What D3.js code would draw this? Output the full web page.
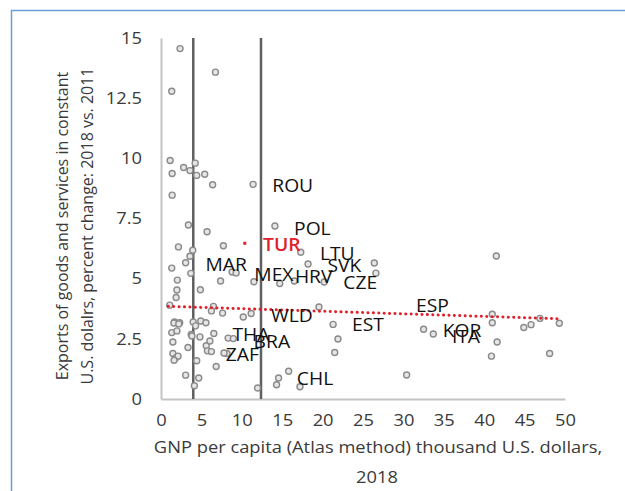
<!DOCTYPE html>
<html><head><meta charset="utf-8">
<script src="https://cdn.jsdelivr.net/npm/d3@7"></script>
<style>body{margin:0;background:#fff;} svg{display:block;}</style>
</head><body>
<svg id="c" width="625" height="491"></svg>
<script>
// GNP per capita (thousand USD) and export growth (%) for unlabeled countries
const pointsX = [1.13,1.38,1.38,2.80,3.59,4.23,4.42,5.41,6.39,1.33,2.36,6.74,3.39,5.70,7.72,2.16,3.93,3.59,3.05,1.33,3.69,2.02,1.97,1.87,4.87,7.37,
  1.08,1.67,2.31,1.33,1.97,1.47,1.47,1.87,2.11,1.62,3.34,3.74,3.98,4.28,4.92,5.56,3.83,4.82,4.42,3.05,4.67,4.13,5.6,6.05,6.54,5.75,6.24,6.83,
  8.31,8.95,8.16,6.49,6.24,7.62,10.18,11.16,11.95,14.3,14.55,15.8,17.2,8.8,9.3,11.5,14.7,16.5,20.2,17.3,18.2,26.4,26.6,41.5,
  19.55,21.3,21.9,21.5,30.4,32.5,33.7,41.0,41.0,41.6,40.9,44.9,45.8,46.9,49.3,48.1,11.4,14.1,7.8,1.6,2.2];
const pointsY = [9.91,9.37,8.47,9.62,9.49,9.80,9.29,9.34,8.90,12.79,14.56,13.58,7.23,6.95,6.37,6.32,6.18,5.93,5.66,5.44,5.22,4.94,4.53,4.22,4.54,4.90,
  3.90,3.20,3.17,2.76,2.83,2.37,1.89,1.72,1.78,1.61,2.14,2.68,3.20,3.04,3.24,3.17,2.62,2.58,1.59,0.99,0.87,0.55,2.21,2.41,2.72,2.00,1.97,1.35,
  2.53,2.51,1.89,3.85,3.66,3.57,3.41,3.55,0.46,0.59,0.87,1.15,0.51,5.28,5.24,4.87,4.80,4.90,4.86,6.10,5.61,5.65,5.23,5.94,
  3.82,3.10,2.49,1.93,1.00,2.90,2.70,3.52,3.17,2.37,1.78,2.97,3.09,3.35,3.15,1.89,8.92,7.19,1.91,3.16,3.12];
// Highlighted country
const turX = [10.37], turY = [6.47];
// Country code labels and their positions (data units)
const labelNames = ["ROU","POL","TUR","LTU","SVK","MAR","MEX","HRV","CZE","ESP","WLD","EST","KOR","ITA","THA","BRA","ZAF","CHL"];
const labelX = [13.77,16.47,12.63,19.67,20.6,5.5,11.55,16.57,22.57,31.56,13.62,23.65,34.86,36.0,8.85,11.46,8.01,16.81];
const labelY = [8.87,7.08,6.42,6.04,5.55,5.56,5.16,5.10,4.83,3.86,3.48,3.08,2.83,2.59,2.66,2.39,1.86,0.83];
// Income thresholds (thousand USD)
const thresholds = [3.995, 12.375];
// Linear trend endpoints
const trendX = [0.9, 49.6], trendY = [3.85, 3.33];
const xTicks = [0,5,10,15,20,25,30,35,40,45,50];
const yTicks = [0,2.5,5,7.5,10,12.5,15];

const svg = d3.select("#c");
const font = "'Open Sans', sans-serif";
const SX = 1.11; // horizontal stretch of the reference image
// frame
svg.append("path").attr("d","M11.5,491 L11.5,10.5 L625,10.5").attr("fill","none").attr("stroke","#6a9fd8").attr("stroke-width",1.5);

const x = d3.scaleLinear().domain([0,50]).range([161,565]);
const y = d3.scaleLinear().domain([0,15]).range([399,38]);

// axes
const gx = svg.append("g").attr("transform","translate(0,399)")
  .call(d3.axisBottom(x).tickValues(xTicks).tickSize(0).tickPadding(15).tickFormat(d3.format("d")));
gx.select(".domain").attr("stroke","#c4c4c4").attr("stroke-width",2);
gx.selectAll("text").attr("font-family",font).attr("font-size",16.5).attr("fill","#3a3a3a")
  .attr("transform",`scale(${SX},1)`);
const gy = svg.append("g").attr("transform","translate(161,0)")
  .call(d3.axisLeft(y).tickValues(yTicks).tickSize(0).tickPadding(19).tickFormat(d=>String(d)));
gy.select(".domain").attr("stroke","#c4c4c4").attr("stroke-width",2);
gy.selectAll("text").attr("font-family",font).attr("font-size",16.5).attr("fill","#3a3a3a")
  .attr("x",-19/SX).attr("transform",`scale(${SX},1)`);

// thresholds
svg.selectAll("line.th").data(thresholds).enter().append("line")
  .attr("x1",d=>x(d)).attr("x2",d=>x(d)).attr("y1",y(15)).attr("y2",y(0))
  .attr("stroke","#5f5f5f").attr("stroke-width",2.5);

// points
const pts = pointsX.map((v,i)=>({x:v,y:pointsY[i]}));
svg.selectAll("circle.p").data(pts).enter().append("circle")
  .attr("cx",d=>x(d.x)).attr("cy",d=>y(d.y)).attr("r",3)
  .attr("fill","#e6e6e6").attr("stroke","#8a8a8a").attr("stroke-width",1.4);

// trend
svg.append("path").datum(trendX.map((v,i)=>[v,trendY[i]]))
  .attr("d",d3.line().x(d=>x(d[0])).y(d=>y(d[1])))
  .attr("fill","none").attr("stroke","#e0202a").attr("stroke-width",3)
  .attr("stroke-dasharray","0.1,5.3").attr("stroke-linecap","round");

// TUR point
svg.selectAll("rect.tur").data(turX.map((v,i)=>({x:v,y:turY[i]}))).enter().append("rect")
  .attr("x",d=>x(d.x)-1.5).attr("y",d=>y(d.y)-1.5).attr("width",3).attr("height",3).attr("fill","#e0202a");

// labels
const labs = labelNames.map((n,i)=>({n,x:labelX[i],y:labelY[i]}));
svg.selectAll("text.lab").data(labs).enter().append("text")
  .attr("transform",d=>`translate(${x(d.x)},${y(d.y)}) scale(1.07,1)`).attr("dy","0.35em")
  .attr("font-family",font).attr("font-size",18)
  .attr("fill",d=>d.n==="TUR"?"#e0202a":"#111")
  .attr("font-weight",d=>d.n==="TUR"?"600":"normal")
  .text(d=>d.n);

// axis titles
svg.append("text").attr("transform",`translate(378,453) scale(${SX},1)`).attr("text-anchor","middle")
  .attr("font-family",font).attr("font-size",16.5).attr("fill","#3a3a3a")
  .text("GNP per capita (Atlas method) thousand U.S. dollars,");
svg.append("text").attr("transform",`translate(377,483) scale(${SX},1)`).attr("text-anchor","middle")
  .attr("font-family",font).attr("font-size",16.5).attr("fill","#3a3a3a").text("2018");
const yt = svg.append("text").attr("transform","translate(0,226) rotate(-90)")
  .attr("text-anchor","middle").attr("font-family",font).attr("font-size",16).attr("fill","#3a3a3a");
yt.append("tspan").attr("x",0).attr("y",68).text("Exports of goods and services in constant");
yt.append("tspan").attr("x",0).attr("y",93).text("U.S. dolalrs, percent change: 2018 vs. 2011");
</script>
</body></html>
